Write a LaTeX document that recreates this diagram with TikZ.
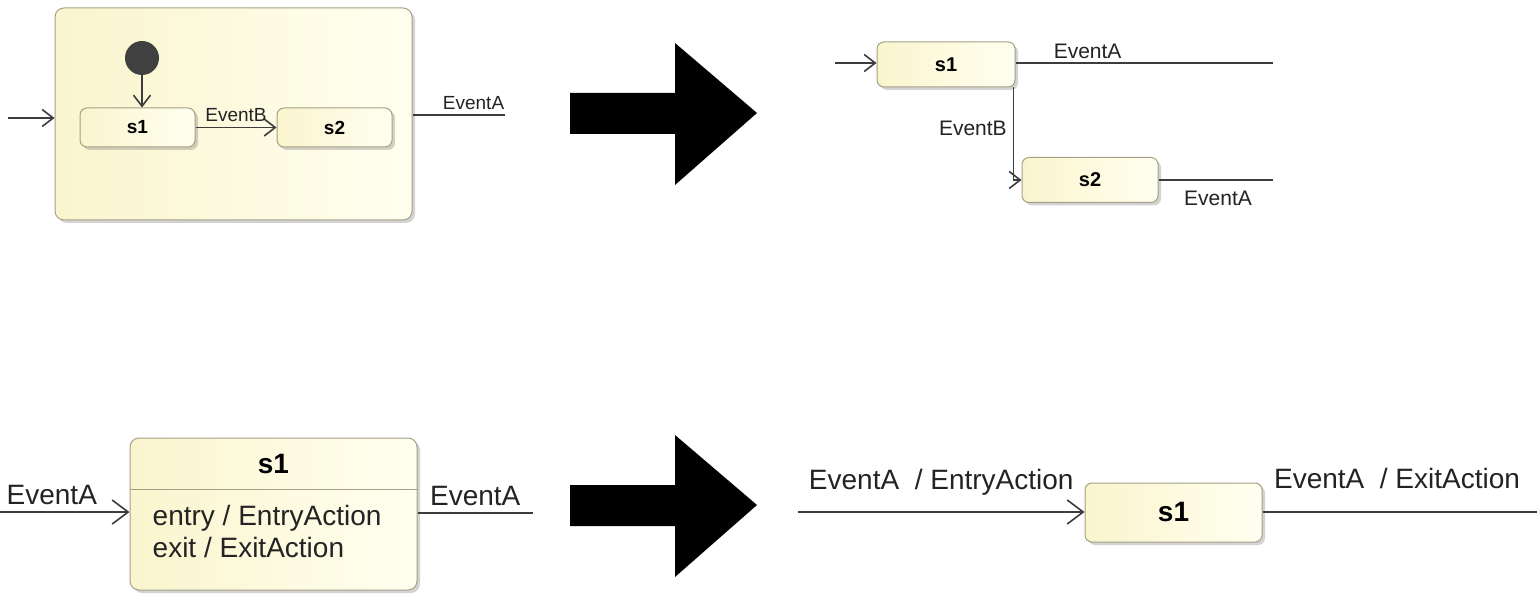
\documentclass[tikz,border=0pt]{standalone}
\usepackage{fontspec}
\setmainfont{Liberation Sans}
\usetikzlibrary{arrows.meta,shadows}

\definecolor{stateline}{RGB}{165,160,135}
\definecolor{statefillA}{RGB}{250,245,206}
\definecolor{statefillB}{RGB}{255,255,240}
\definecolor{wire}{RGB}{60,60,60}
\definecolor{dotgray}{RGB}{64,64,64}
\definecolor{lbltext}{RGB}{35,35,35}

\tikzset{
  stnode/.style={draw=stateline, line width=1pt, rounded corners=7pt,
    left color=statefillA, right color=statefillB,
    drop shadow={shadow xshift=3pt, shadow yshift=-3pt, opacity=.35, fill=gray},
    inner sep=0pt, text=black},
  fsmall/.style={font=\fontsize{19}{22}\selectfont\bfseries},
  fmid/.style={font=\fontsize{20}{24}\selectfont\bfseries},
  fbig/.style={font=\fontsize{28}{32}\selectfont\bfseries},
  initdot/.style={circle, fill=dotgray, minimum size=34pt, inner sep=0pt},
  wireline/.style={draw=wire, line width=1.6pt},
  trans/.style={wireline, -{Straight Barb[length=11pt,width=17pt]}},
  transbig/.style={wireline, -{Straight Barb[length=16pt,width=24pt]}},
  lbl/.style={font=\fontsize{19}{22}\selectfont, text=lbltext, inner sep=0pt},
  lblmid/.style={font=\fontsize{21}{25}\selectfont, text=lbltext, inner sep=0pt},
  lblbig/.style={font=\fontsize{28}{32}\selectfont, text=lbltext, inner sep=0pt}
}

\begin{document}
\begin{tikzpicture}[x=1pt, y=-1pt]
  \useasboundingbox (0,0) rectangle (1537,596);

  % composite state with nested states
  \node[stnode, rounded corners=9pt, minimum width=357pt, minimum height=212pt] (comp) at (233.5,114) {};
  \node[initdot] (ini) at (142,58) {};
  \node[stnode, fsmall, minimum width=115pt, minimum height=39pt] (cs1) at (137.5,127.5) {s1};
  \node[stnode, fsmall, minimum width=115pt, minimum height=39pt] (cs2) at (334.5,127.5) {s2};
  \coordinate (cin) at (8,118);
  \coordinate (cout) at (505,115);
  \draw[trans] (cin) -- (comp.west |- cin);
  \draw[trans] (ini) -- (ini |- cs1.north);
  \draw[trans] (cs1) -- node[lbl, above=5pt] {EventB} (cs2);
  \draw[wireline] (comp.east |- cout) -- (cout) node[lbl, anchor=south east, yshift=5pt] {EventA};

  % big arrows
  \foreach \dy in {0,392}
    \fill[black] (570,93+\dy) -- (675,93+\dy) -- (675,43+\dy) -- (757,113+\dy)
      -- (675,185+\dy) -- (675,134+\dy) -- (570,134+\dy) -- cycle;

  % flattened states
  \node[stnode, fmid, minimum width=138pt, minimum height=45pt] (ts1) at (946,64.5) {s1};
  \node[stnode, fmid, minimum width=136pt, minimum height=45pt] (ts2) at (1090,180) {s2};
  \coordinate (tin) at (835,63);
  \coordinate (tout1) at (1273,63);
  \coordinate (tout2) at (1273,180);
  \draw[trans] (tin) -- (ts1.west |- tin);
  \draw[wireline] (ts1.east |- tout1) -- node[lblmid, pos=.28, above=3pt] {EventA} (tout1);
  \draw[trans] ([xshift=-2pt]ts1.south east) |- node[lblmid, pos=.22, left=6pt] {EventB} (ts2.west);
  \draw[wireline] (ts2.east) -- node[lblmid, pos=.52, below=10pt] {EventA} (tout2);

  % state with entry and exit actions
  \node[stnode, rounded corners=9pt, minimum width=287pt, minimum height=152pt] (bs1) at (273.5,514) {};
  \node[fbig, inner sep=0pt] (bs1t) at ([yshift=-27pt]bs1.north) {s1};
  \draw[draw=stateline, line width=1pt] ([yshift=-52pt]bs1.north west) -- ([yshift=-52pt]bs1.north east);
  \node[lblbig, anchor=base west] (bsen) at ([xshift=23pt,yshift=-11pt]bs1.west) {entry / EntryAction};
  \node[lblbig, anchor=base west] (bsex) at ([yshift=-32pt]bsen.base west) {exit / ExitAction};
  \coordinate (bin) at (0,512);
  \coordinate (bout) at (533,513);
  \draw[transbig] (bin) -- node[lblbig, pos=.4, above=6pt] {EventA} (bs1.west |- bin);
  \draw[wireline] (bs1.east |- bout) -- node[lblbig, midway, above=6pt] {EventA} (bout);

  % actions moved onto transitions
  \node[stnode, fbig, minimum width=177pt, minimum height=59pt] (rs1) at (1173.5,512.5) {s1};
  \coordinate (rin) at (798,512);
  \coordinate (rout) at (1537,512);
  \draw[transbig] (rin) -- node[lblbig, midway, above=16pt] {EventA~~/ EntryAction} (rs1.west |- rin);
  \draw[wireline] (rs1.east |- rout) -- node[lblbig, pos=.49, above=22pt] {EventA~~/ ExitAction} (rout);
\end{tikzpicture}
\end{document}
